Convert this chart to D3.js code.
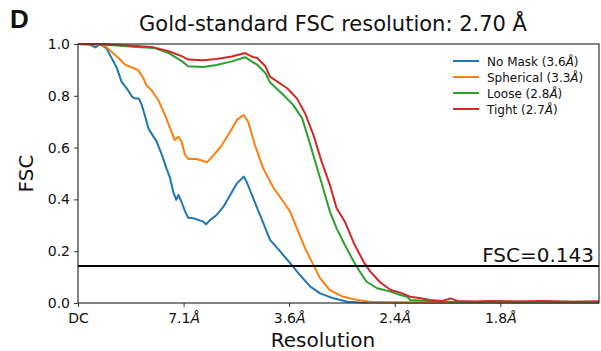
<!DOCTYPE html>
<html>
<head>
<meta charset="utf-8">
<script src="https://cdn.jsdelivr.net/npm/d3@7"></script>
<style>
  body { margin: 0; background: #fff; }
  svg text { font-family: "DejaVu Sans", sans-serif; fill: #111; }
</style>
</head>
<body>
<div id="chart"></div>
<script>
// frequences en 1/Å, FSC
var noMask = [[0,1],[0.016,0.998],[0.023,0.987],[0.030,0.999],[0.038,0.983],[0.045,0.945],[0.052,0.906],[0.058,0.855],
  [0.065,0.829],[0.072,0.797],[0.076,0.79],[0.081,0.79],[0.085,0.765],[0.089,0.726],[0.094,0.674],[0.098,0.655],
  [0.105,0.623],[0.112,0.571],[0.118,0.52],[0.123,0.481],[0.127,0.43],[0.131,0.398],[0.134,0.417],[0.138,0.391],
  [0.143,0.353],[0.147,0.329],[0.154,0.327],[0.161,0.32],[0.167,0.314],[0.171,0.304],[0.176,0.32],[0.185,0.34],
  [0.194,0.372],[0.203,0.417],[0.212,0.462],[0.221,0.488],[0.225,0.468],[0.232,0.417],[0.239,0.366],[0.247,0.31],
  [0.256,0.245],[0.270,0.198],[0.285,0.147],[0.296,0.108],[0.310,0.063],[0.323,0.037],[0.341,0.018],[0.359,0.005],
  [0.376,0.002],[0.45,0.001],[0.55,0.001],[0.695,0.001]];
var spherical = [[0,1],[0.029,0.998],[0.037,0.99],[0.047,0.964],[0.054,0.946],[0.063,0.92],[0.074,0.907],[0.080,0.9],
  [0.087,0.869],[0.091,0.842],[0.098,0.822],[0.107,0.784],[0.116,0.726],[0.123,0.674],[0.129,0.629],[0.134,0.642],
  [0.138,0.623],[0.143,0.571],[0.147,0.556],[0.158,0.556],[0.167,0.548],[0.172,0.543],[0.181,0.571],[0.192,0.61],
  [0.203,0.661],[0.212,0.707],[0.221,0.726],[0.227,0.7],[0.236,0.61],[0.247,0.52],[0.261,0.443],[0.274,0.391],
  [0.283,0.353],[0.292,0.288],[0.303,0.211],[0.314,0.147],[0.323,0.095],[0.336,0.05],[0.354,0.024],[0.372,0.012],
  [0.390,0.005],[0.42,0.003],[0.50,0.002],[0.60,0.002],[0.695,0.002]];
var loose = [[0,1],[0.029,0.999],[0.056,0.993],[0.078,0.988],[0.101,0.985],[0.121,0.965],[0.139,0.933],[0.147,0.914],
  [0.167,0.911],[0.185,0.919],[0.205,0.933],[0.223,0.949],[0.232,0.932],[0.239,0.92],[0.250,0.888],[0.256,0.852],
  [0.274,0.803],[0.287,0.765],[0.299,0.713],[0.310,0.61],[0.319,0.52],[0.327,0.443],[0.336,0.353],[0.345,0.288],
  [0.356,0.224],[0.368,0.159],[0.376,0.121],[0.385,0.082],[0.399,0.057],[0.417,0.044],[0.430,0.031],[0.439,0.024],
  [0.443,0.012],[0.470,0.008],[0.497,0.005],[0.53,0.004],[0.56,0.007],[0.60,0.004],[0.65,0.005],[0.695,0.004]];
var tight = [[0,1],[0.029,0.999],[0.056,0.996],[0.078,0.992],[0.101,0.987],[0.121,0.972],[0.139,0.952],[0.147,0.94],
  [0.167,0.937],[0.185,0.942],[0.205,0.952],[0.223,0.965],[0.232,0.951],[0.239,0.946],[0.250,0.914],[0.256,0.874],
  [0.279,0.829],[0.292,0.79],[0.303,0.732],[0.314,0.649],[0.325,0.546],[0.336,0.456],[0.345,0.366],[0.356,0.314],
  [0.368,0.231],[0.381,0.159],[0.390,0.121],[0.403,0.08],[0.417,0.05],[0.430,0.04],[0.443,0.024],[0.457,0.018],
  [0.470,0.012],[0.486,0.008],[0.497,0.018],[0.506,0.008],[0.53,0.006],[0.55,0.008],[0.58,0.006],[0.62,0.008],
  [0.66,0.005],[0.695,0.007]];

var seriesNames = ["No Mask", "Spherical", "Loose", "Tight"];
var seriesRes = ["3.6", "3.3", "2.8", "2.7"];
var seriesColors = ["#1f77b4", "#ff7f0e", "#2ca02c", "#d62728"];
var xTicks = [0, 1/7.1, 2/7.1, 3/7.1, 4/7.1];
var xTickLabels = ["DC", "7.1", "3.6", "2.4", "1.8"];
var yTicks = [0, 0.2, 0.4, 0.6, 0.8, 1.0];
var threshold = 0.143;

var width = 601, height = 351,
    margin = {top: 44, right: 2, bottom: 48, left: 78};
var w = width - margin.left - margin.right,
    h = height - margin.top - margin.bottom;

var svg = d3.select("#chart").append("svg")
  .attr("width", width).attr("height", height);

var x = d3.scaleLinear().domain([0, 0.695]).range([0, w]);
var y = d3.scaleLinear().domain([0, 1]).range([h, 0]);

var g = svg.append("g").attr("transform", "translate(" + margin.left + "," + margin.top + ")");

g.append("clipPath").attr("id", "clip")
  .append("rect").attr("width", w).attr("height", h + 2).attr("y", -1);

var line = d3.line().x(d => x(d[0])).y(d => y(d[1]));
var data = [noMask, spherical, loose, tight];

g.append("g").attr("clip-path", "url(#clip)")
  .selectAll("path").data(data).enter().append("path")
  .attr("d", line)
  .attr("fill", "none")
  .attr("stroke", (d, i) => seriesColors[i])
  .attr("stroke-width", 2)
  .attr("stroke-linejoin", "round");

// ligne seuil
g.append("line")
  .attr("x1", 0).attr("x2", w)
  .attr("y1", y(threshold)).attr("y2", y(threshold))
  .attr("stroke", "#000").attr("stroke-width", 2);
g.append("text")
  .attr("x", w - 5).attr("y", y(threshold) - 4)
  .attr("text-anchor", "end")
  .style("font-size", "20px")
  .text("FSC=0.143");

// axes
var yAxis = d3.axisLeft(y).tickValues(yTicks).tickFormat(d3.format(".1f")).tickSize(4).tickPadding(4);
var xAxis = d3.axisBottom(x).tickValues(xTicks).tickSize(4).tickPadding(6)
  .tickFormat((d, i) => xTickLabels[i]);

var ya = g.append("g").call(yAxis);
var xa = g.append("g").attr("transform", "translate(0," + h + ")").call(xAxis);
[ya, xa].forEach(function(a) {
  a.select(".domain").remove();
  a.selectAll("line").attr("stroke", "#333");
  a.selectAll("text").style("font-size", "14px").style("font-family", "DejaVu Sans").attr("fill", "#111");
});
// Å en italique sur les ticks
xa.selectAll("text").each(function(d, i) {
  if (i > 0) d3.select(this).append("tspan").style("font-style", "italic").text("Å");
});

g.append("rect").attr("width", w).attr("height", h)
  .attr("fill", "none").attr("stroke", "#333").attr("stroke-width", 1.2);

// légende
var leg = g.append("g").attr("transform", "translate(" + (w - 146) + ",17)");
seriesNames.forEach(function(n, i) {
  var row = leg.append("g").attr("transform", "translate(0," + (i * 16) + ")");
  row.append("line").attr("x1", 0).attr("x2", 26).attr("stroke", seriesColors[i]).attr("stroke-width", 2);
  var t = row.append("text").attr("x", 34).attr("y", 4.5).style("font-size", "12px");
  t.append("tspan").text(n + " (" + seriesRes[i]);
  t.append("tspan").style("font-style", "italic").text("Å");
  t.append("tspan").text(")");
});

// titres
svg.append("text").attr("x", 10).attr("y", 28)
  .style("font-family", "Liberation Sans, Arial, sans-serif").style("font-weight", "bold").style("font-size", "26px")
  .text("D");
svg.append("text").attr("x", 333).attr("y", 31)
  .attr("text-anchor", "middle").style("font-size", "21px")
  .text("Gold-standard FSC resolution: 2.70 Å");
svg.append("text").attr("x", 323).attr("y", 347)
  .attr("text-anchor", "middle").style("font-size", "20px")
  .text("Resolution");
svg.append("text").attr("transform", "translate(33," + (margin.top + h / 2) + ") rotate(-90)")
  .attr("text-anchor", "middle").style("font-size", "20px")
  .text("FSC");
</script>
</body>
</html>
